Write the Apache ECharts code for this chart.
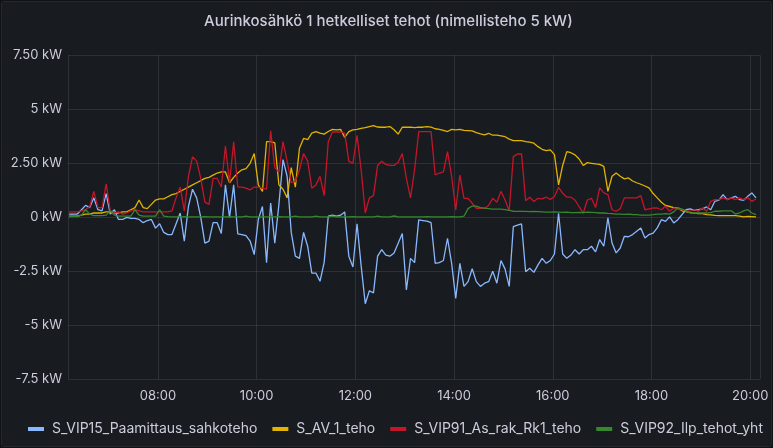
<!DOCTYPE html>
<html>
<head>
<meta charset="utf-8">
<script src="https://cdn.jsdelivr.net/npm/echarts@6/dist/echarts.min.js"></script>
<style>
  html, body { margin: 0; padding: 0; background: #111217; }
  #panel {
    position: absolute; left: 1px; top: 1px; width: 769px; height: 444px;
    background: #181b1f; border: 1px solid #25272c; border-radius: 3px;
  }
  #main { position: absolute; left: -2px; top: -2px; width: 773px; height: 448px; }
</style>
</head>
<body>
<div id="panel"><div id="main"></div></div>
<script>
// 5 minute samples, first one at 06:12
var startTime = new Date(2021, 5, 15, 6, 12).getTime();
var stepMs = 5 * 60 * 1000;

var seriesNames = ['S_VIP15_Paamittaus_sahkoteho', 'S_AV_1_teho', 'S_VIP91_As_rak_Rk1_teho', 'S_VIP92_Ilp_tehot_yht'];
var yTickLabels = ['-7.5 kW', '-5 kW', '-2.5 kW', '0 kW', '2.50 kW', '5 kW', '7.50 kW'];

// kW
var paamittaus = [
  0.15, 0.15, 0.15, 0.35, 0.55, 0.45, 0.9, 0.35, 0.3, 1.1,
  0.15, 0.35, -0.1, -0.1, 0.0, -0.05, -0.05, -0.1, -0.25, -0.15,
  -0.1, -0.5, -0.3, -0.7, -0.8, -0.8, -0.3, 0.2, -1.1, 0.5,
  1.3, 0.9, 0.0, -1.2, -1.1, -0.25, -0.25, -0.75, 1.5, 0.0,
  1.5, -0.77, -0.8, -0.85, -1.1, -1.73, -0.1, 0.5, -2.1, 0.66,
  -1.2, 0.6, 2.67, 1.9, -0.7, -1.8, -1.9, -0.7, -1.35, -2.58,
  -2.58, -2.96, -2.1, 0.05, 0.1, 0.05, 0.1, 0.25, -1.8, -2.3,
  -0.3, -2.25, -4.0, -3.4, -3.5, -1.8, -1.5, -1.75, -1.8, -1.65,
  -1.2, -0.75, -3.36, -1.9, -2.1, -0.12, -0.15, -0.18, -0.25, -2.13,
  -2.1, -2.0, -0.97, -2.13, -3.75, -2.13, -3.2, -2.98, -2.38, -2.98,
  -3.2, -3.05, -2.98, -2.5, -3.05, -2.0, -2.4, -3.2, -0.43, -0.36,
  -0.31, -2.52, -2.36, -2.55, -2.2, -1.9, -2.13, -2.0, -1.7, 0.19,
  -1.7, -1.9, -1.75, -1.5, -1.7, -1.5, -1.5, -1.34, -1.6, -1.03,
  -1.34, -0.03, -1.19, -1.65, -1.42, -0.88, -0.9, -0.8, -0.65, -0.5,
  -0.96, -0.8, -0.73, -0.49, -0.11, -0.19, 0.02, -0.26, -0.11, 0.12,
  0.35, 0.39, 0.32, 0.35, 0.39, 0.48, 0.35, 0.74, 0.79, 1.05,
  0.82, 0.9, 0.97, 0.82, 0.79, 0.97, 1.13, 0.9
];
var av1 = [
  0.05, 0.05, 0.05, 0.1, 0.15, 0.15, 0.2, 0.2, 0.2, 0.25,
  0.25, 0.2, 0.2, 0.25, 0.25, 0.35, 0.45, 0.8, 0.45, 0.4,
  0.6, 0.8, 0.85, 0.85, 0.95, 1.05, 1.1, 1.2, 1.3, 1.4,
  1.5, 1.6, 1.7, 1.8, 1.85, 1.95, 2.05, 2.1, 2.1, 1.6,
  1.85, 2.05, 2.2, 2.25, 2.5, 2.95, 1.5, 1.2, 3.5, 3.5,
  3.45, 1.5, 1.3, 0.9, 2.3, 1.4, 3.2, 3.65, 3.6, 3.9,
  3.97, 3.9, 3.85, 3.97, 4.07, 4.05, 4.07, 3.7, 3.97, 4.05,
  4.07, 4.12, 4.15, 4.2, 4.24, 4.18, 4.17, 4.17, 4.2, 4.05,
  3.85, 4.17, 4.17, 4.17, 4.15, 4.17, 4.17, 4.2, 4.17, 4.1,
  4.07, 4.02, 3.97, 4.07, 4.05, 4.07, 4.02, 4.01, 4.0, 3.92,
  3.86, 3.82, 3.89, 3.8, 3.8, 3.77, 3.73, 3.62, 3.55, 3.55,
  3.55, 3.5, 3.48, 3.43, 3.27, 3.15, 3.09, 3.12, 2.9, 1.5,
  2.4, 3.04, 2.99, 2.89, 2.7, 2.4, 2.53, 2.5, 2.47, 2.45,
  2.36, 1.2, 1.9, 2.05, 1.9, 1.78, 1.82, 1.68, 1.6, 1.53,
  1.45, 1.36, 1.1, 0.9, 0.7, 0.55, 0.5, 0.45, 0.42, 0.3,
  0.26, 0.22, 0.19, 0.17, 0.17, 0.12, 0.11, 0.09, 0.08, 0.08,
  0.08, 0.08, 0.08, 0.05, 0.02, 0.04, 0.03, 0.02
];
var asRak = [
  0.25, 0.25, 0.25, 0.3, 0.35, 0.5, 1.2, 0.45, 0.45, 1.55,
  0.3, 0.2, 0.25, 0.15, 0.2, 0.3, 0.35, 0.3, 0.25, 0.25,
  0.25, 0.25, 0.25, 0.25, 0.25, 0.3, 0.9, 1.4, 0.3, 1.9,
  2.8, 2.6, 1.8, 0.7, 0.6, 1.8, 1.8, 1.4, 3.3, 1.6,
  3.5, 1.4, 1.4, 1.35, 1.27, 1.4, 1.4, 1.35, 1.3, 4.0,
  2.3, 2.1, 3.5, 2.6, 1.6, 1.65, 2.2, 2.95, 2.6, 1.35,
  1.5, 1.9, 1.0, 3.5, 3.95, 3.95, 3.95, 3.9, 2.6, 2.5,
  3.8, 2.2, 0.2, 0.9, 1.0, 2.4, 2.6, 2.45, 2.4, 2.4,
  2.55, 2.95, 1.8, 0.9, 2.2, 3.97, 3.97, 3.97, 3.97, 1.96,
  2.05, 2.1, 3.04, 1.9, 0.34, 1.96, 0.88, 0.88, 0.65, 0.42,
  0.42, 0.42, 0.55, 0.88, 0.7, 1.2, 0.8, 0.3, 2.81, 2.93,
  2.93, 0.77, 0.93, 0.73, 0.88, 0.85, 0.93, 0.83, 0.96, 1.39,
  1.11, 0.93, 0.93, 0.8, 0.49, 0.19, 0.8, 0.88, 0.45, 1.36,
  1.13, 1.05, 0.35, 0.28, 0.4, 0.9, 0.9, 0.9, 0.9, 1.0,
  0.35, 0.39, 0.43, 0.43, 0.35, 0.51, 0.28, 0.43, 0.39, 0.35,
  0.3, 0.28, 0.35, 0.28, 0.43, 0.28, 0.74, 0.82, 0.82, 0.9,
  0.82, 0.9, 0.82, 0.9, 0.82, 0.9, 0.74, 0.85
];
var ilp = [
  0.03, 0.03, 0.03, 0.1, 0.35, 0.15, 0.08, 0.08, 0.08, 0.1,
  0.3, 0.1, 0.05, 0.05, 0.05, 0.05, 0.35, 0.1, 0.05, 0.05,
  0.05, 0.05, 0.35, 0.05, 0.03, 0.02, 0.02, 0.02, 0.03, 0.02,
  0.02, 0.02, 0.02, 0.03, 0.02, 0.02, 0.02, 0.02, 0.02, 0.03,
  0.02, 0.02, 0.02, 0.05, 0.02, 0.02, 0.02, 0.02, 0.02, 0.02,
  0.02, 0.03, 0.02, 0.02, 0.02, 0.05, 0.02, 0.02, 0.02, 0.02,
  0.05, 0.02, 0.02, 0.02, 0.05, 0.02, 0.02, 0.02, 0.02, 0.03,
  0.02, 0.02, 0.02, 0.02, 0.02, 0.05, 0.02, 0.02, 0.02, 0.06,
  0.02, 0.02, 0.02, 0.02, 0.02, 0.02, 0.02, 0.03, 0.02, 0.02,
  0.02, 0.02, 0.02, 0.03, 0.02, 0.02, 0.05, 0.4, 0.52, 0.52,
  0.45, 0.42, 0.4, 0.38, 0.38, 0.38, 0.36, 0.32, 0.28, 0.27,
  0.27, 0.27, 0.26, 0.27, 0.26, 0.25, 0.24, 0.24, 0.25, 0.24,
  0.23, 0.24, 0.22, 0.22, 0.23, 0.22, 0.24, 0.23, 0.22, 0.2,
  0.2, 0.18, 0.17, 0.15, 0.15, 0.14, 0.15, 0.13, 0.12, 0.1,
  0.1, 0.1, 0.12, 0.15, 0.15, 0.17, 0.15, 0.25, 0.45, 0.38,
  0.3, 0.2, 0.2, 0.2, 0.2, 0.2, 0.22, 0.28, 0.28, 0.3,
  0.3, 0.3, 0.15, 0.2, 0.3, 0.35, 0.2, 0.12
];

var colors = ['#8ab8ff', '#e0b400', '#c4162a', '#37872d'];
var seriesValues = [paamittaus, av1, asRak, ilp];

function withTimes(values) {
  return values.map(function (v, i) { return [startTime + i * stepMs, v]; });
}

function hhmm(val) {
  var d = new Date(val);
  var h = d.getHours(), m = d.getMinutes();
  return (h < 10 ? '0' : '') + h + ':' + (m < 10 ? '0' : '') + m;
}

var myChart = echarts.init(document.getElementById('main'));
var textColor = '#ccccdc';
var gridColor = 'rgba(204, 204, 220, 0.12)';
var twoHours = 2 * 3600 * 1000;

myChart.setOption({
  animation: false,
  color: colors,
  textStyle: { fontFamily: 'Inter' },
  title: {
    text: 'Aurinkosähkö 1 hetkelliset tehot (nimellisteho 5 kW)',
    left: 199,
    top: 9,
    textStyle: { color: textColor, fontSize: 15, fontWeight: 500, fontFamily: 'Inter' }
  },
  grid: { left: 68, right: 13, top: 55.3, bottom: 68.7 },
  legend: {
    left: 23,
    top: 417,
    icon: 'rect',
    itemWidth: 16,
    itemHeight: 4,
    itemGap: 15,
    textStyle: { color: textColor, fontSize: 14, fontFamily: 'Inter', padding: [0, 0, 0, 3] },
    data: seriesNames
  },
  xAxis: {
    type: 'time',
    min: new Date(2021, 5, 15, 6, 10, 36).getTime(),
    max: new Date(2021, 5, 15, 20, 11, 54).getTime(),
    splitNumber: 7,
    minInterval: twoHours,
    axisLine: { show: false },
    axisTick: { show: false },
    splitLine: {
      show: true,
      lineStyle: { color: gridColor, width: 1 }
    },
    axisLabel: {
      color: textColor,
      fontSize: 13,
      margin: 10,
      formatter: hhmm
    }
  },
  yAxis: {
    type: 'value',
    min: -7.5,
    max: 7.5,
    interval: 2.5,
    axisLine: { show: false },
    axisTick: { show: false },
    splitLine: { lineStyle: { color: gridColor, width: 1 } },
    axisLabel: {
      color: textColor,
      fontSize: 13,
      margin: 6,
      formatter: function (val) {
        return yTickLabels[Math.round((val + 7.5) / 2.5)];
      }
    }
  },
  series: seriesNames.map(function (name, k) {
    return {
      name: name,
      type: 'line',
      showSymbol: false,
      symbol: 'none',
      lineStyle: { width: 1.3, color: colors[k] },
      data: withTimes(seriesValues[k])
    };
  })
});
</script>
</body>
</html>
